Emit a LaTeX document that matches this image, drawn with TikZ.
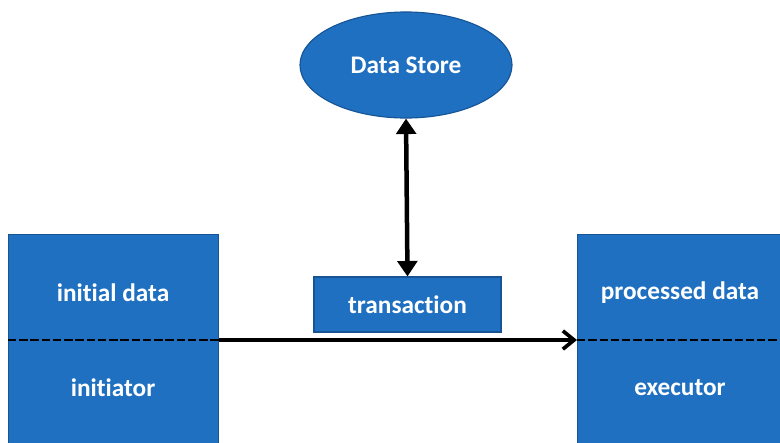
\documentclass[tikz,border=0pt]{standalone}
\usepackage{fontspec}
\setmainfont{Carlito}[Ligatures=NoCommon]
\usetikzlibrary{shapes.geometric, arrows.meta}
\definecolor{boxblue}{RGB}{31,112,193}
\definecolor{edgeblue}{RGB}{22,84,150}
\tikzset{
    blockbox/.style={draw=edgeblue, fill=boxblue, line width=0.8pt, inner sep=0pt},
    boxtext/.style={text=white, font=\fontsize{18}{21}\selectfont\bfseries},
    split/.style={line width=2pt, dash pattern=on 6pt off 2pt},
    flow/.style={line width=2.6pt, -{Straight Barb[length=8pt, width=13pt]}},
    link/.style={line width=3.2pt, {Triangle[length=11pt, width=14pt]}-{Triangle[length=11pt, width=14pt]}}
}

\begin{document}
\begin{tikzpicture}[x=0.025cm, y=-0.025cm]
        \useasboundingbox (0,0) rectangle (780,442);
        \clip (0,0) rectangle (780,442);

        % Data store
        \node[blockbox, ellipse, minimum width=5.3cm, minimum height=2.65cm, boxtext] (store) at (406,65) {Data Store};

        % Left block
        \node[blockbox, anchor=north west, minimum width=5.25cm, minimum height=5.8cm] (left) at (8,234) {};
        \node[boxtext] (initdata) at (113,293) {initial data};
        \node[boxtext] (initiator) at (113,388) {initiator};

        % Right block
        \node[blockbox, anchor=north west, minimum width=5.8cm, minimum height=5.8cm] (right) at (577,234) {};
        \node[boxtext] (procdata) at (680,293) {processed data};
        \node[boxtext] (executor) at (680,388) {executor};

        % Transaction
        \node[blockbox, minimum width=4.675cm, minimum height=1.375cm, boxtext] (trans) at (407.5,304.5) {transaction};

        % Dashed split lines
        \coordinate (lsplit) at (8,340);
        \coordinate (rsplit) at (780,340);
        \draw[split] (lsplit) -- (lsplit -| left.east);
        \draw[split] (rsplit -| right.west) -- (rsplit);

        % Arrows
        \draw[flow] (lsplit -| left.east) -- (rsplit -| right.west);
        \draw[link] (store.south) -- (trans.north);
    \end{tikzpicture}
\end{document}
